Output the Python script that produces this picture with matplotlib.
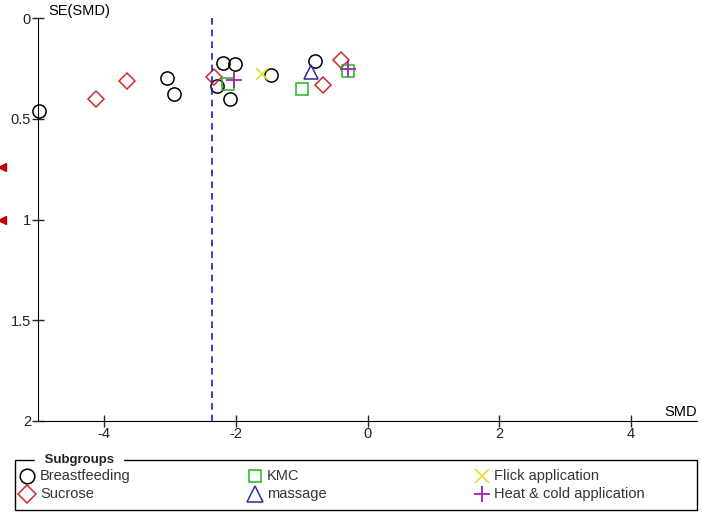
import matplotlib.pyplot as plt
from matplotlib.lines import Line2D
from matplotlib.patches import Rectangle

plt.rcParams['font.family'] = ['Liberation Sans', 'DejaVu Sans']
plt.rcParams['font.size'] = 9
plt.rcParams['axes.unicode_minus'] = False

# study points: SMD (x) and SE(SMD) (y), by subgroup
bf_smd = [-4.98, -3.05, -2.93, -2.29, -2.20, -2.01, -2.08, -1.46, -0.79]
bf_se = [0.46, 0.297, 0.376, 0.337, 0.223, 0.228, 0.40, 0.282, 0.213]
suc_smd = [-4.12, -3.65, -2.33, -0.68, -0.40]
suc_se = [0.40, 0.312, 0.292, 0.332, 0.208]
kmc_smd = [-2.11, -0.99, -0.29]
kmc_se = [0.33, 0.352, 0.262]
mas_smd = [-0.85]
mas_se = [0.27]
flick_smd = [-1.60]
flick_se = [0.277]
heat_smd = [-2.02, -0.29]
heat_se = [0.307, 0.253]
# studies off the left edge of the scale
off_se = [0.74, 1.0]
pooled_smd = -2.36

groups = [
    ("Breastfeeding", bf_smd, bf_se, "o", "black"),
    ("Sucrose", suc_smd, suc_se, "D", "#d02a2a"),
    ("KMC", kmc_smd, kmc_se, "s", "#22b522"),
    ("massage", mas_smd, mas_se, "^", "#2a2aa8"),
    ("Flick application", flick_smd, flick_se, "x", "#e6e03c"),
    ("Heat & cold application", heat_smd, heat_se, "+", "#a020b0"),
]
sizes = {"o": 9.5, "D": 8.5, "s": 8, "^": 10, "x": 9, "+": 11}

fig = plt.figure(figsize=(7.03, 5.16), dpi=100)
ax = fig.add_axes([38 / 703, 1 - 421 / 516, (697 - 38) / 703, (421 - 18) / 516])

for name, xs, ys, m, c in groups:
    if m in "x+":
        ax.plot(xs, ys, m, color=c, ms=sizes[m], mew=1.3, linestyle="none", clip_on=False)
    else:
        ax.plot(xs, ys, m, mfc="none", mec=c, ms=sizes[m], mew=1.1, linestyle="none", clip_on=False)

ax.plot([-5.55] * len(off_se), off_se, "<", color="#c00000", ms=6, clip_on=False, linestyle="none")
ax.plot([pooled_smd, pooled_smd], [0, 2], color="#1a1ad0", lw=1.2, dashes=(4, 3))

ax.set_xlim(-5, 5)
ax.set_ylim(2, 0)
ax.spines['top'].set_visible(False)
ax.spines['right'].set_visible(False)
ax.set_xticks([-4, -2, 0, 2, 4])
ax.set_yticks([0, 0.5, 1, 1.5, 2])
ax.set_yticklabels(["0", "0.5", "1", "1.5", "2"])
ax.tick_params(direction="inout", length=8, width=1, pad=0, labelsize=10.5, colors="#222222")
ax.tick_params(axis="y", pad=1)
ax.text(0.015, 1.0, "SE(SMD)", transform=ax.transAxes, ha="left", va="bottom", fontsize=10.5)
ax.text(1.0, 0.005, "SMD", transform=ax.transAxes, ha="right", va="bottom", fontsize=10.5)

# legend box
W, H = 703, 516
def fx(px):
    return px / W
def fy(py):
    return 1 - py / H

fig.patches.append(Rectangle((fx(15), fy(510)), fx(697) - fx(15), fy(460) - fy(510),
                             transform=fig.transFigure, fill=False, ec="black", lw=1))
fig.text(fx(41), fy(460), " Subgroups ", ha="left", va="center", fontsize=9.5,
         fontweight="bold", color="#222222", backgroundcolor="white")
marker_x = [27, 255, 482]
text_x = [40, 267, 494]
rows = [476, 494]
for k, (name, xs, ys, m, c) in enumerate(groups):
    col, row = k // 2, k % 2
    py = rows[row]
    ms = sizes[m] + 1
    if m in "x+":
        fig.lines.append(Line2D([fx(marker_x[col])], [fy(py)], marker=m, color=c, ms=ms,
                                mew=1.3, linestyle="none", transform=fig.transFigure))
    else:
        fig.lines.append(Line2D([fx(marker_x[col])], [fy(py)], marker=m, mfc="none", mec=c, ms=ms,
                                mew=1.1, linestyle="none", transform=fig.transFigure))
    fig.text(fx(text_x[col]), fy(py), name, ha="left", va="center", fontsize=10.5, color="#333333")

plt.savefig("out.png", dpi=100)
